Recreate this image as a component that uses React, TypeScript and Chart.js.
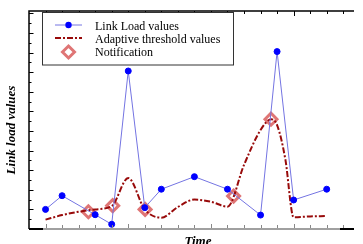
import React, { useEffect, useRef } from "react";
import { Chart, registerables } from "chart.js";

Chart.register(...registerables);

// Link load series (x in time-tick units)
const loadX = [0, 1, 3, 4, 5, 6, 7, 9, 11, 13, 14, 15, 17];
const loadY = [1.0, 1.7, 0.73, 0.24, 8.06, 1.09, 2.03, 2.67, 2.03, 0.71, 9.05, 1.48, 2.03];

// Adaptive threshold series
const thrX = [0, 1, 2, 3, 4, 5, 6, 7, 8, 9, 10, 11, 12, 13, 13.65, 14, 14.5, 15, 16, 17];
const thrY = [0.48, 0.71, 0.88, 1.0, 1.17, 2.6, 1.0, 0.58, 1.12, 1.5, 1.39, 1.14, 3.27, 5.05, 5.6, 5.3, 3.55, 0.6, 0.64, 0.66];

// Notification markers
const noteX = [2.59, 4.06, 6.02, 11.37, 13.63];
const noteY = [0.88, 1.19, 1.0, 1.68, 5.6];

const legendLabels = ["Link Load values", "Adaptive threshold values", "Notification"];
const xTitle = "Time";
const yTitle = "Link load values";

const X_MIN = -1;
const X_MAX = 18.65;
const Y_MIN = 0;
const Y_MAX = 11.12;

const BLUE_LINE = "#7474e2";
const BLUE_PT = "#0000ff";
const RED_LINE = "#980a0a";
const NOTE_COLOR = "rgba(214,78,78,0.78)";
const SERIF = "\"Liberation Serif\", \"Times New Roman\", Times, serif";

function drawDiamond(ctx: CanvasRenderingContext2D, x: number, y: number, r: number) {
  ctx.beginPath();
  ctx.moveTo(x, y - r);
  ctx.lineTo(x + r, y);
  ctx.lineTo(x, y + r);
  ctx.lineTo(x - r, y);
  ctx.closePath();
}

const framePlugin = {
  id: "frame",
  afterDraw(chart: any) {
    const ctx: CanvasRenderingContext2D = chart.ctx;
    const { left, right, top, bottom } = chart.chartArea;
    const xs = chart.scales.x;
    const ys = chart.scales.y;
    ctx.save();

    // bottom axis
    ctx.lineWidth = 2;
    ctx.strokeStyle = "#a0a0a0";
    ctx.beginPath();
    ctx.moveTo(left + 14, bottom);
    ctx.lineTo(340, bottom);
    ctx.stroke();
    ctx.strokeStyle = "#000";
    ctx.beginPath();
    ctx.moveTo(left, bottom);
    ctx.lineTo(left + 14, bottom);
    ctx.moveTo(340, bottom);
    ctx.lineTo(right, bottom);
    ctx.stroke();

    // left and top axes
    ctx.lineWidth = 1.5;
    ctx.strokeStyle = "#000";
    ctx.beginPath();
    ctx.moveTo(left, bottom);
    ctx.lineTo(left, top);
    ctx.lineTo(right, top);
    ctx.stroke();

    // x ticks
    ctx.lineWidth = 1;
    for (let t = 0; t <= 18; t++) {
      const px = Math.round(xs.getPixelForValue(t)) + 0.5;
      const major = t % 5 === 0;
      ctx.strokeStyle = "#888";
      ctx.beginPath();
      ctx.moveTo(px, bottom - 1);
      ctx.lineTo(px, bottom - (major ? 5 : 4));
      ctx.stroke();
      ctx.strokeStyle = "#000";
      ctx.beginPath();
      ctx.moveTo(px, top);
      ctx.lineTo(px, top + (major ? 5 : 3));
      ctx.stroke();
    }
    // y ticks
    ctx.strokeStyle = "#000";
    for (let v = 0.5; v <= Y_MAX; v += 0.5) {
      const py = Math.round(ys.getPixelForValue(v)) + 0.5;
      const major = Math.abs(v - Math.round(v)) < 1e-6;
      ctx.beginPath();
      ctx.moveTo(left, py);
      ctx.lineTo(left + (major ? 4.5 : 2.5), py);
      ctx.stroke();
    }

    // legend
    const bx = 42.5, by = 12.5, bw = 191, bh = 52.5;
    ctx.fillStyle = "#fff";
    ctx.fillRect(bx, by, bw, bh);
    ctx.strokeStyle = "#333";
    ctx.lineWidth = 1;
    ctx.strokeRect(bx, by, bw, bh);
    const rowY = [25, 38, 52];
    const baseY = [29.5, 42.7, 56];
    // row 1
    ctx.strokeStyle = BLUE_LINE;
    ctx.lineWidth = 1;
    ctx.beginPath();
    ctx.moveTo(55, rowY[0]);
    ctx.lineTo(82, rowY[0]);
    ctx.stroke();
    ctx.fillStyle = BLUE_PT;
    ctx.beginPath();
    ctx.arc(68.5, rowY[0], 3.2, 0, Math.PI * 2);
    ctx.fill();
    // row 2
    ctx.strokeStyle = RED_LINE;
    ctx.lineWidth = 2;
    ctx.setLineDash([6, 2, 2, 2]);
    ctx.beginPath();
    ctx.moveTo(55, rowY[1]);
    ctx.lineTo(82, rowY[1]);
    ctx.stroke();
    ctx.setLineDash([]);
    // row 3
    ctx.strokeStyle = NOTE_COLOR;
    ctx.lineWidth = 3;
    drawDiamond(ctx, 68.5, rowY[2], 6);
    ctx.stroke();

    ctx.fillStyle = "#000";
    ctx.font = `12px ${SERIF}`;
    ctx.textAlign = "left";
    ctx.textBaseline = "alphabetic";
    legendLabels.forEach((s, i) => ctx.fillText(s, 95, baseY[i]));

    // axis titles
    ctx.font = `italic bold 13px ${SERIF}`;
    ctx.textAlign = "center";
    ctx.fillText(xTitle, 198, 245);
    ctx.save();
    ctx.translate(15, 130);
    ctx.rotate(-Math.PI / 2);
    ctx.fillText(yTitle, 0, 0);
    ctx.restore();

    ctx.restore();
  },
};

export default function App() {
  const ref = useRef<HTMLCanvasElement | null>(null);
  useEffect(() => {
    if (!ref.current) return;
    const chart = new Chart(ref.current, {
      type: "line",
      data: {
        datasets: [
          {
            label: legendLabels[0],
            data: loadX.map((x, i) => ({ x, y: loadY[i] })),
            borderColor: BLUE_LINE,
            borderWidth: 1,
            pointStyle: "circle",
            pointRadius: 3,
            pointBackgroundColor: BLUE_PT,
            pointBorderColor: BLUE_PT,
            pointBorderWidth: 1,
            tension: 0,
          },
          {
            label: legendLabels[1],
            data: thrX.map((x, i) => ({ x, y: thrY[i] })),
            borderColor: RED_LINE,
            borderWidth: 2,
            borderDash: [6, 2, 2, 2],
            pointRadius: 0,
            cubicInterpolationMode: "monotone",
          },
          {
            label: legendLabels[2],
            data: noteX.map((x, i) => ({ x, y: noteY[i] })),
            showLine: false,
            pointStyle: "rectRot",
            pointRadius: 6,
            pointBorderWidth: 3,
            pointBorderColor: NOTE_COLOR,
            pointBackgroundColor: "rgba(255,255,255,0.55)",
          },
        ],
      } as any,
      options: {
        animation: false,
        responsive: true,
        maintainAspectRatio: false,
        layout: { padding: { left: 29, top: 11, right: 0, bottom: 15 } },
        scales: {
          x: { type: "linear", min: X_MIN, max: X_MAX, display: false },
          y: { type: "linear", min: Y_MIN, max: Y_MAX, display: false },
        },
        plugins: { legend: { display: false }, tooltip: { enabled: false } },
      } as any,
      plugins: [framePlugin],
    });
    return () => chart.destroy();
  }, []);
  return (
    <div style={{ position: "absolute", left: 0, top: 0, width: 363, height: 244, background: "#fff" }}>
      <canvas ref={ref} />
    </div>
  );
}
